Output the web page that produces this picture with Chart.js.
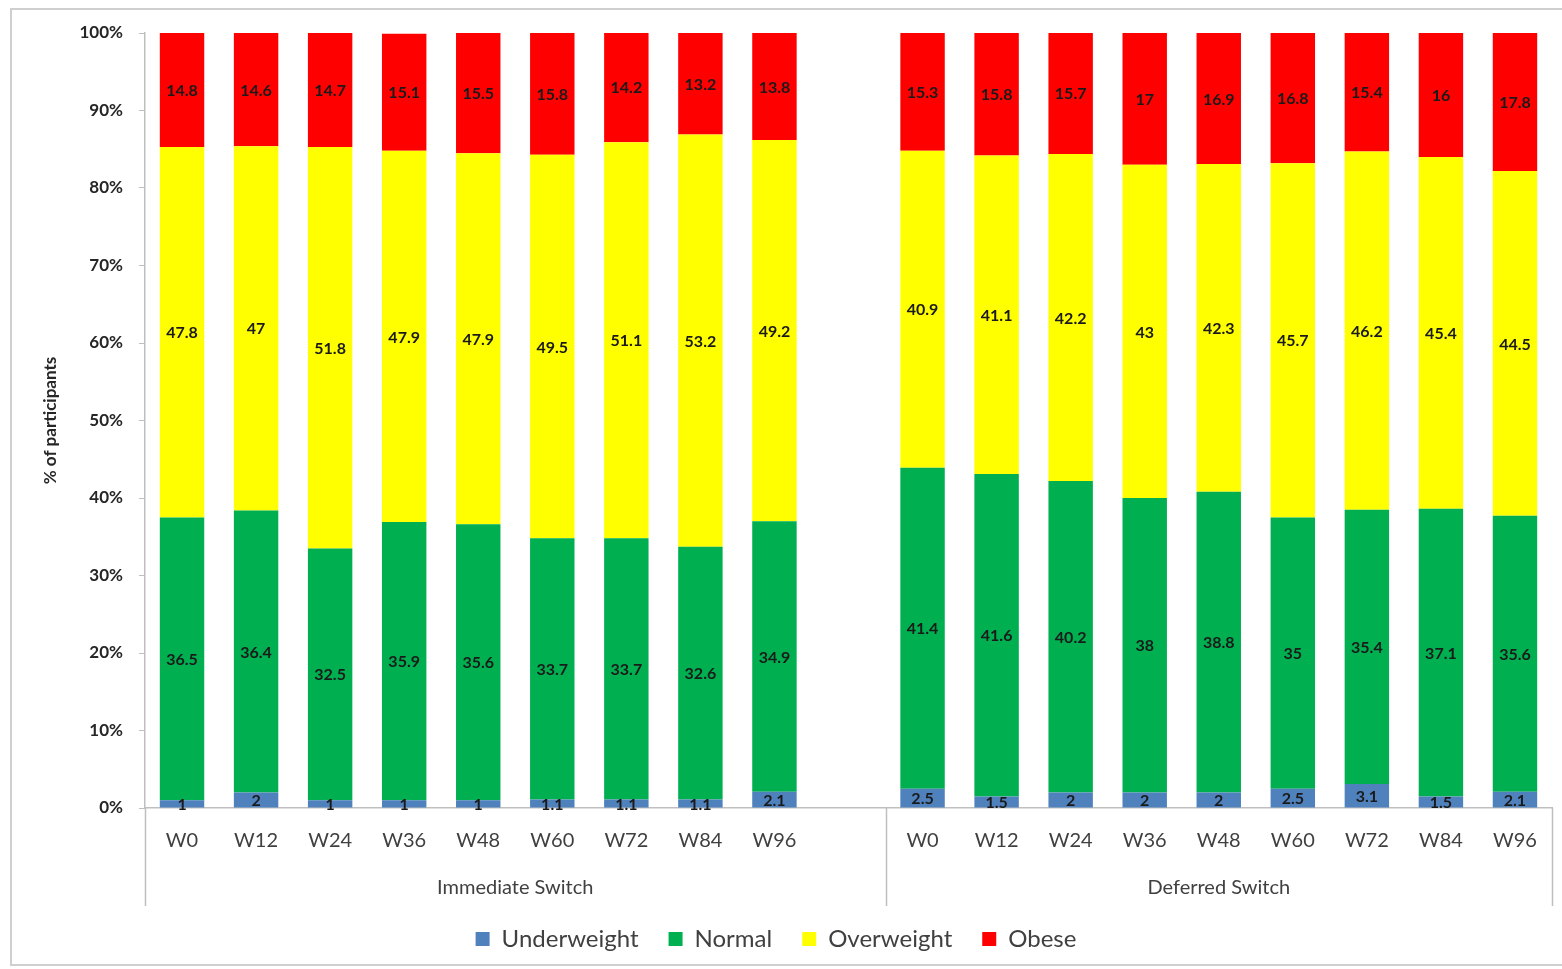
<!DOCTYPE html>
<html>
<head>
<meta charset="utf-8">
<script src="https://cdn.jsdelivr.net/npm/chart.js@4/dist/chart.umd.min.js"></script>
<style>
  html, body { margin: 0; padding: 0; background: #fff; }
  #wrap { position: relative; width: 1562px; height: 969px; }
  #frame { position: absolute; left: 10px; top: 8px; width: 1552px; height: 958px; border: 2px solid #cfcfcf; border-right: none; box-sizing: border-box; }
  canvas { position: absolute; left: 0; top: 0; }
</style>
</head>
<body>
<div id="wrap">
  <div id="frame"></div>
  <canvas id="bmiChart" width="1562" height="969"></canvas>
</div>
<script>
// Categories: 9 visits per arm, one empty slot closes the first group
const weeks = ['W0', 'W12', 'W24', 'W36', 'W48', 'W60', 'W72', 'W84', 'W96'];
const labels = [...weeks, '', ...weeks];
const groups = ['Immediate Switch', 'Deferred Switch'];
const yTicks = ['0%', '10%', '20%', '30%', '40%', '50%', '60%', '70%', '80%', '90%', '100%'];

// Immediate switch (%)
const underImm = [1, 2, 1, 1, 1, 1.1, 1.1, 1.1, 2.1];
const normalImm = [36.5, 36.4, 32.5, 35.9, 35.6, 33.7, 33.7, 32.6, 34.9];
const overImm = [47.8, 47, 51.8, 47.9, 47.9, 49.5, 51.1, 53.2, 49.2];
const obeseImm = [14.8, 14.6, 14.7, 15.1, 15.5, 15.8, 14.2, 13.2, 13.8];

// Deferred switch (%)
const underDef = [2.5, 1.5, 2, 2, 2, 2.5, 3.1, 1.5, 2.1];
const normalDef = [41.4, 41.6, 40.2, 38, 38.8, 35, 35.4, 37.1, 35.6];
const overDef = [40.9, 41.1, 42.2, 43, 42.3, 45.7, 46.2, 45.4, 44.5];
const obeseDef = [15.3, 15.8, 15.7, 17, 16.9, 16.8, 15.4, 16, 17.8];

const join = (a, b) => [...a, null, ...b];

// draws the value in the middle of each segment
const segmentLabels = {
    id: 'segmentLabels',
    afterDatasetsDraw(chart) {
        const ctx = chart.ctx;
        ctx.save();
        ctx.font = 'bold 16px Lato';
        ctx.fillStyle = '#1a1a1a';
        ctx.textAlign = 'center';
        ctx.textBaseline = 'middle';
        chart.data.datasets.forEach((ds, i) => {
            chart.getDatasetMeta(i).data.forEach((bar, j) => {
                const v = ds.data[j];
                if (v == null) return;
                ctx.fillText(String(v), bar.x, (bar.y + bar.base) / 2 + 1);
            });
        });
        ctx.restore();
    }
};

// second level of the category axis
const groupAxis = {
    id: 'groupAxis',
    afterDraw(chart) {
        const x = chart.scales.x;
        const ctx = chart.ctx;
        const top = x.top;
        const split = (x.getPixelForValue(9) + x.getPixelForValue(10)) / 2;
        const edges = [x.left, split, x.right];
        ctx.save();
        ctx.strokeStyle = '#bfbfbf';
        ctx.lineWidth = 1.5;
        edges.forEach(e => {
            ctx.beginPath();
            ctx.moveTo(Math.round(e) + 0.5, top);
            ctx.lineTo(Math.round(e) + 0.5, top + 98);
            ctx.stroke();
        });
        ctx.font = '20px Lato';
        ctx.fillStyle = '#404040';
        ctx.textAlign = 'center';
        ctx.textBaseline = 'middle';
        groups.forEach((g, i) => {
            ctx.fillText(g, (edges[i] + edges[i + 1]) / 2, top + 80);
        });
        ctx.restore();
    }
};

const ctx = document.getElementById('bmiChart').getContext('2d');
new Chart(ctx, {
    type: 'bar',
    data: {
        labels: labels,
        datasets: [
            { label: 'Underweight', data: join(underImm, underDef), backgroundColor: '#4f81bd' },
            { label: 'Normal', data: join(normalImm, normalDef), backgroundColor: '#00b050' },
            { label: 'Overweight', data: join(overImm, overDef), backgroundColor: '#ffff00' },
            { label: 'Obese', data: join(obeseImm, obeseDef), backgroundColor: '#ff0000' }
        ]
    },
    options: {
        responsive: false,
        animation: false,
        devicePixelRatio: 1,
        layout: { padding: { top: 33, right: 10, bottom: 8, left: 0 } },
        datasets: { bar: { categoryPercentage: 1, barPercentage: 0.6, borderWidth: 0 } },
        scales: {
            x: {
                stacked: true,
                grid: { display: false },
                border: { color: '#bfbfbf', width: 1.5 },
                ticks: { color: '#404040', font: { family: 'Lato', size: 20 }, padding: 13, maxRotation: 0, autoSkip: false },
                afterFit: s => { s.height = 89; }
            },
            y: {
                stacked: true,
                min: 0,
                max: 100,
                grid: { drawOnChartArea: false, drawTicks: true, tickLength: 6, color: '#bfbfbf' },
                border: { color: '#bfbfbf', width: 1.5 },
                ticks: {
                    stepSize: 10,
                    color: '#262626',
                    padding: 16,
                    font: { family: 'Lato', size: 17, weight: 'bold' },
                    callback: (v) => yTicks[Math.round(v / 10)]
                },
                title: {
                    display: true,
                    text: '% of participants',
                    color: '#262626',
                    font: { family: 'Lato', size: 17, weight: 'bold' },
                    padding: { top: 40, bottom: 0 }
                },
                afterFit: s => { s.width = 145; }
            }
        },
        plugins: {
            legend: {
                position: 'bottom',
                labels: { color: '#404040', font: { family: 'Lato', size: 24 }, boxWidth: 14, boxHeight: 14, padding: 30 }
            },
            tooltip: { enabled: false }
        }
    },
    plugins: [segmentLabels, groupAxis]
});
</script>
</body>
</html>
